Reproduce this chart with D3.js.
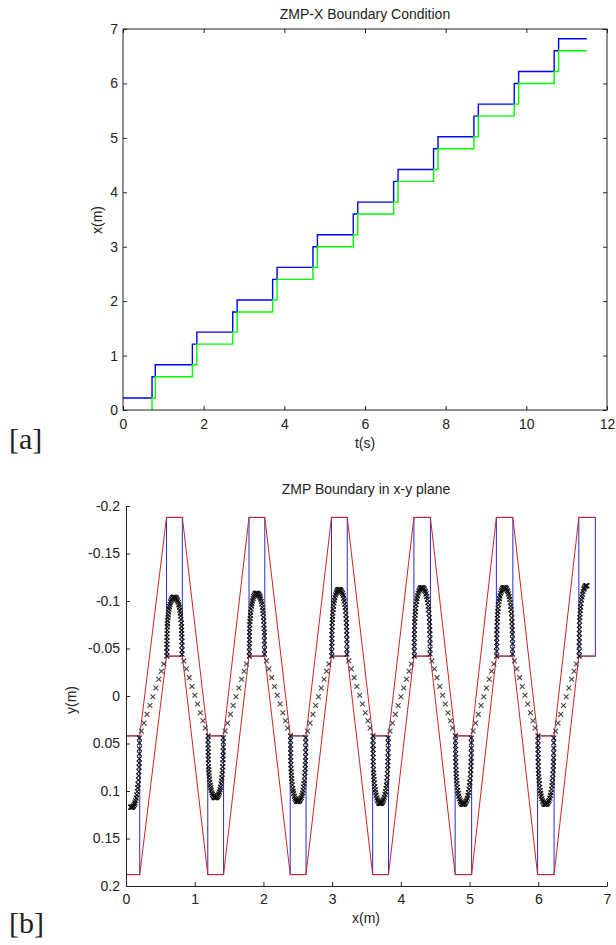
<!DOCTYPE html>
<meta charset="utf-8">
<html>
<head>
<title>ZMP boundary</title>
<style>
  body { margin: 0; background: #fff; }
  svg text { font-family: "Liberation Sans", Arial, sans-serif; fill: #222; }
</style>
<script src="https://d3js.org/d3.v7.min.js"></script>
</head>
<body>
<div id="chart"></div>
<script>
// ---------- [a] ZMP-X boundary condition ----------
var stepStart = [0.72, 1.72, 2.72, 3.71, 4.71, 5.71, 6.71, 7.70, 8.70, 9.70, 10.69];
var stepEnd = [0.80, 1.83, 2.83, 3.82, 4.82, 5.82, 6.82, 7.81, 8.81, 9.81, 10.80];
var upperLevels = [0.22, 0.83, 1.43, 2.02, 2.62, 3.22, 3.82, 4.42, 5.02, 5.62, 6.22, 6.82];
var lowerLevels = [0.00, 0.61, 1.21, 1.80, 2.40, 3.00, 3.60, 4.20, 4.80, 5.40, 6.00, 6.60];
var tEnd = 11.5;
var tTicks = [0, 2, 4, 6, 8, 10, 12];
var xTicks = [0, 1, 2, 3, 4, 5, 6, 7];

// ---------- [b] ZMP boundary in x-y plane ----------
// footsteps: side +1 = positive y, -1 = negative y
var footSide = [1, -1, 1, -1, 1, -1, 1, -1, 1, -1, 1, -1];
var footXmin = [-0.03, 0.59, 1.19, 1.79, 2.39, 2.99, 3.59, 4.19, 4.79, 5.39, 5.99, 6.59];
var footXmax = [0.20, 0.82, 1.42, 2.02, 2.62, 3.22, 3.82, 4.43, 5.03, 5.63, 6.23, 6.83];
var footInner = 0.042, footOuter = 0.188;
// ZMP trajectory: arch inside each foot (peak |y|), part of arch that is shown
var archPeak = [0.117, 0.104, 0.107, 0.108, 0.111, 0.112, 0.113, 0.114, 0.114, 0.114, 0.114, 0.116];
var archFrom = [0.4, 0, 0, 0, 0, 0, 0, 0, 0, 0, 0, 0];
var archTo = [1, 1, 1, 1, 1, 1, 1, 1, 1, 1, 1, 0.5];
// arch shape: u across the foot, v from inner edge to peak
var archU = [0.02,0.02,0.02,0.025,0.03,0.03,0.035,0.04,0.05,0.06,0.075,0.09,0.11,0.13,0.16,0.19,0.22,0.26,0.30,0.34,0.38,0.42,0.46,0.50,0.54,0.58,0.62,0.66,0.70,0.74,0.78,0.81,0.84,0.87,0.89,0.91,0.93,0.945,0.955,0.965,0.97,0.975,0.98,0.98,0.98];
var archV = [0.00,0.07,0.14,0.20,0.26,0.32,0.38,0.44,0.50,0.55,0.60,0.65,0.70,0.75,0.80,0.84,0.88,0.92,0.95,0.97,0.99,1.00,1.00,1.00,1.00,0.99,0.98,0.96,0.94,0.91,0.87,0.83,0.78,0.73,0.68,0.62,0.56,0.50,0.44,0.38,0.32,0.25,0.18,0.10,0.03];
// double support: marker positions along the path between feet
var dsFrac = [0.06, 0.16, 0.27, 0.38, 0.49, 0.60, 0.71, 0.81, 0.90];
var yTicksB = [-0.2, -0.15, -0.1, -0.05, 0, 0.05, 0.1, 0.15, 0.2];

var FS = 14;

var svg = d3.select("#chart").append("svg")
    .attr("width", 616)
    .attr("height", 945);

function styleAxis(g) {
    g.attr("font-size", FS).attr("font-family", "Liberation Sans, Arial, sans-serif");
    g.selectAll("text").attr("fill", "#222");
    g.selectAll("line").attr("stroke", "#222");
}

// ================= panel a =================
var xa = d3.scaleLinear().domain([0, 12]).range([123, 607]);
var ya = d3.scaleLinear().domain([0, 7]).range([410, 29]);

var blue = [[0, upperLevels[0]]];
var green = [];
for (var k = 0; k < stepStart.length; k++) {
    blue.push([stepStart[k], upperLevels[k]], [stepStart[k], lowerLevels[k + 1]],
              [stepEnd[k], lowerLevels[k + 1]], [stepEnd[k], upperLevels[k + 1]]);
    green.push([stepStart[k], lowerLevels[k]], [stepStart[k], upperLevels[k]],
               [stepEnd[k], upperLevels[k]], [stepEnd[k], lowerLevels[k + 1]]);
}
blue.push([tEnd, upperLevels[upperLevels.length - 1]]);
green.push([tEnd, lowerLevels[lowerLevels.length - 1]]);

var lineA = d3.line().x(function (d) { return xa(d[0]); }).y(function (d) { return ya(d[1]); });

svg.append("path").datum(blue).attr("d", lineA)
    .attr("fill", "none").attr("stroke", "#0000ff").attr("stroke-width", 1.4);
svg.append("path").datum(green).attr("d", lineA)
    .attr("fill", "none").attr("stroke", "#00ff00").attr("stroke-width", 1.4);

// axes, inward ticks on all four sides
svg.append("g").attr("transform", "translate(0,410)")
    .call(d3.axisBottom(xa).tickValues(tTicks).tickSize(-4).tickPadding(9).tickFormat(d3.format("d")))
    .call(styleAxis).call(function (g) { g.select(".domain").remove(); });
svg.append("g").attr("transform", "translate(0,29)")
    .call(d3.axisTop(xa).tickValues(tTicks).tickSize(-4).tickFormat(""))
    .call(styleAxis).call(function (g) { g.select(".domain").remove(); });
svg.append("g").attr("transform", "translate(123,0)")
    .call(d3.axisLeft(ya).tickValues(xTicks).tickSize(-4).tickPadding(5).tickFormat(d3.format("d")))
    .call(styleAxis).call(function (g) { g.select(".domain").remove(); });
svg.append("g").attr("transform", "translate(607,0)")
    .call(d3.axisRight(ya).tickValues(xTicks).tickSize(-4).tickFormat(""))
    .call(styleAxis).call(function (g) { g.select(".domain").remove(); });
svg.append("rect").attr("x", 123).attr("y", 29).attr("width", 484).attr("height", 381)
    .attr("fill", "none").attr("stroke", "#222").attr("stroke-width", 1);

svg.append("text").attr("x", 365).attr("y", 19).attr("text-anchor", "middle")
    .attr("font-size", FS).text("ZMP-X Boundary Condition");
svg.append("text").attr("x", 365).attr("y", 448).attr("text-anchor", "middle")
    .attr("font-size", FS).text("t(s)");
svg.append("text").attr("transform", "translate(102,220) rotate(-90)").attr("text-anchor", "middle")
    .attr("font-size", FS).text("x(m)");
svg.append("text").attr("x", 9).attr("y", 449)
    .attr("font-size", 30).style("font-family", "'Liberation Serif', serif").text("[a]");

// ================= panel b =================
var xb = d3.scaleLinear().domain([0, 7]).range([126, 607]);
var yb = d3.scaleLinear().domain([-0.2, 0.2]).range([506, 886]);

svg.append("clipPath").attr("id", "clipb").append("rect")
    .attr("x", 126).attr("y", 500).attr("width", 485).attr("height", 387);
var gb = svg.append("g").attr("clip-path", "url(#clipb)");

var feet = footXmin.map(function (x0, i) {
    return { x0: x0, x1: footXmax[i], s: footSide[i] };
});

// blue foot rectangles
gb.selectAll(".foot").data(feet).enter().append("rect")
    .attr("x", function (d) { return xb(d.x0); })
    .attr("width", function (d) { return xb(d.x1) - xb(d.x0); })
    .attr("y", function (d) { return Math.min(yb(d.s * footInner), yb(d.s * footOuter)); })
    .attr("height", function (d) { return Math.abs(yb(d.s * footOuter) - yb(d.s * footInner)); })
    .attr("fill", "none").attr("stroke", "#2a2ad0").attr("stroke-width", 1);

// red boundary segments
var redSegs = [];
feet.forEach(function (f, i) {
    redSegs.push([[f.x0, f.s * footOuter], [f.x1, f.s * footOuter]]);
    redSegs.push([[f.x0, f.s * footInner], [f.x1, f.s * footInner]]);
    if (i + 1 < feet.length) {
        var g = feet[i + 1];
        redSegs.push([[f.x1, f.s * footOuter], [g.x0, g.s * footInner]]);
        redSegs.push([[f.x1, f.s * footInner], [g.x0, g.s * footOuter]]);
    }
});
var lineB = d3.line().x(function (d) { return xb(d[0]); }).y(function (d) { return yb(d[1]); });
gb.selectAll(".red").data(redSegs).enter().append("path")
    .attr("d", lineB).attr("fill", "none").attr("stroke", "#d02424").attr("stroke-width", 1);

// ZMP trajectory markers
var zmp = [];
feet.forEach(function (f, i) {
    archU.forEach(function (u, j) {
        if (u < archFrom[i] || u > archTo[i]) return;
        var yy = footInner + archV[j] * (archPeak[i] - footInner);
        zmp.push([f.x0 + u * (f.x1 - f.x0), f.s * yy, 1]);
    });
    if (i + 1 < feet.length) {
        var g = feet[i + 1];
        dsFrac.forEach(function (t) {
            zmp.push([f.x1 + t * (g.x0 - f.x1), f.s * footInner + t * (g.s * footInner - f.s * footInner), 0]);
        });
    }
});
gb.selectAll(".zmp").data(zmp).enter().append("path")
    .attr("transform", function (d) { return "translate(" + xb(d[0]) + "," + yb(d[1]) + ")"; })
    .attr("d", "M-2.4,-2.4L2.4,2.4M-2.4,2.4L2.4,-2.4")
    .attr("stroke", function (d) { return d[2] ? "#111" : "#444"; })
    .attr("stroke-width", 1.1).attr("fill", "none");

// axes (left and bottom only)
svg.append("g").attr("transform", "translate(0,886)")
    .call(d3.axisBottom(xb).tickValues(xTicks).tickSize(-4).tickSizeOuter(0).tickPadding(8).tickFormat(d3.format("d")))
    .call(styleAxis).call(function (g) { g.select(".domain").attr("stroke", "#222"); });
svg.append("g").attr("transform", "translate(126,0)")
    .call(d3.axisLeft(yb).tickValues(yTicksB).tickSize(-4).tickSizeOuter(0).tickPadding(6)
        .tickFormat(function (d) { return String(d); }))
    .call(styleAxis).call(function (g) { g.select(".domain").attr("stroke", "#222"); });

svg.append("text").attr("x", 366).attr("y", 494).attr("text-anchor", "middle")
    .attr("font-size", FS).text("ZMP Boundary in x-y plane");
svg.append("text").attr("x", 366).attr("y", 923).attr("text-anchor", "middle")
    .attr("font-size", FS).text("x(m)");
svg.append("text").attr("transform", "translate(76,700) rotate(-90)").attr("text-anchor", "middle")
    .attr("font-size", FS).text("y(m)");
svg.append("text").attr("x", 9).attr("y", 933)
    .attr("font-size", 30).style("font-family", "'Liberation Serif', serif").text("[b]");
</script>
</body>
</html>
